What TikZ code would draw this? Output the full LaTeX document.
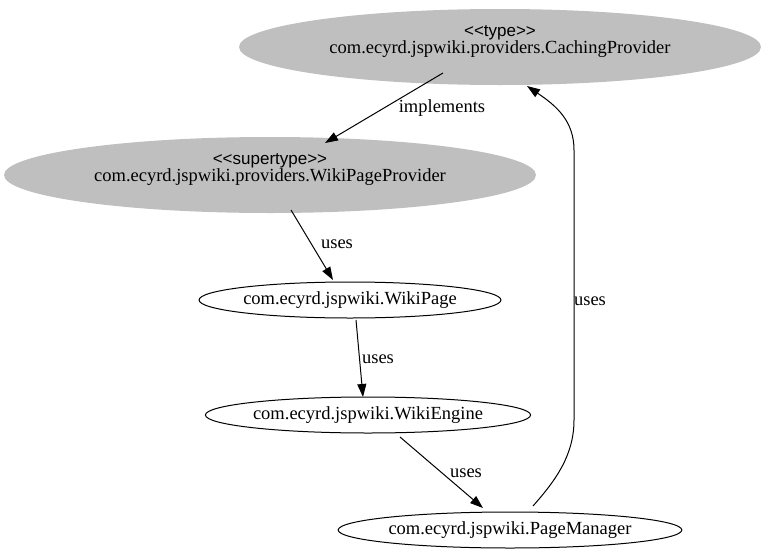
\documentclass[tikz,border=0pt]{standalone}
\usepackage{fontspec}
\setmainfont{Liberation Serif}
\newfontfamily\stereofont{Liberation Sans}
\usetikzlibrary{shapes.geometric,arrows.meta}
\tikzset{
  grayel/.style={ellipse, fill=black!25, draw=none, inner sep=0pt, align=center, font=\fontsize{18.5}{20}\selectfont},
  whiteel/.style={ellipse, draw=black, line width=1pt, fill=white, inner sep=0pt, font=\fontsize{18.5}{20}\selectfont},
  edge/.style={draw=black, line width=1pt, -{Triangle[length=13pt,width=9pt]}},
  elabel/.style={font=\fontsize{18.5}{20}\selectfont, inner sep=1pt}
}
\begin{document}
\begin{tikzpicture}[x=1pt,y=-1pt]
\useasboundingbox (0,0) rectangle (761,560);
\node[grayel, minimum width=522pt, minimum height=76pt] (cp) at (500,47)
  {{\stereofont\fontsize{17}{17}\selectfont <<type>>}\\[-3pt]com.ecyrd.jspwiki.providers.CachingProvider\\[-12pt]\strut};
\node[grayel, minimum width=532pt, minimum height=76pt] (wpp) at (270,175)
  {{\stereofont\fontsize{17}{17}\selectfont <<supertype>>}\\[-3pt]com.ecyrd.jspwiki.providers.WikiPageProvider\\[-12pt]\strut};
\node[whiteel, minimum width=298pt, minimum height=36pt] (wp) at (350,300) {com.ecyrd.jspwiki.WikiPage};
\node[whiteel, minimum width=320pt, minimum height=36pt] (we) at (368,415) {com.ecyrd.jspwiki.WikiEngine};
\node[whiteel, minimum width=336pt, minimum height=36pt] (pm) at (510,530) {com.ecyrd.jspwiki.PageManager};

\coordinate (a1) at (443,73);
\coordinate (a2) at (325,143);
\draw[edge] (a1) -- (a2);
\node[elabel] (l1) at (442,108) {implements};

\coordinate (b1) at (291,210);
\coordinate (b2) at (333,280);
\draw[edge] (b1) -- (b2);
\node[elabel] (l2) at (337,244) {uses};

\coordinate (c1) at (356,320);
\coordinate (c2) at (363,397);
\draw[edge] (c1) -- (c2);
\node[elabel] (l3) at (378,359) {uses};

\coordinate (d1) at (400,437);
\coordinate (d2) at (483,508);
\draw[edge] (d1) -- (d2);
\node[elabel] (l4) at (466,473) {uses};

\coordinate (e1) at (533,506);
\coordinate (e2) at (574,420);
\coordinate (e3) at (574,150);
\coordinate (e4) at (527,86);
\draw[edge] (e1) .. controls (556,480) and (574,455) .. (e2) -- (e3) .. controls (574,120) and (555,105) .. (e4);
\node[elabel] (l5) at (590,301) {uses};
\end{tikzpicture}
\end{document}
